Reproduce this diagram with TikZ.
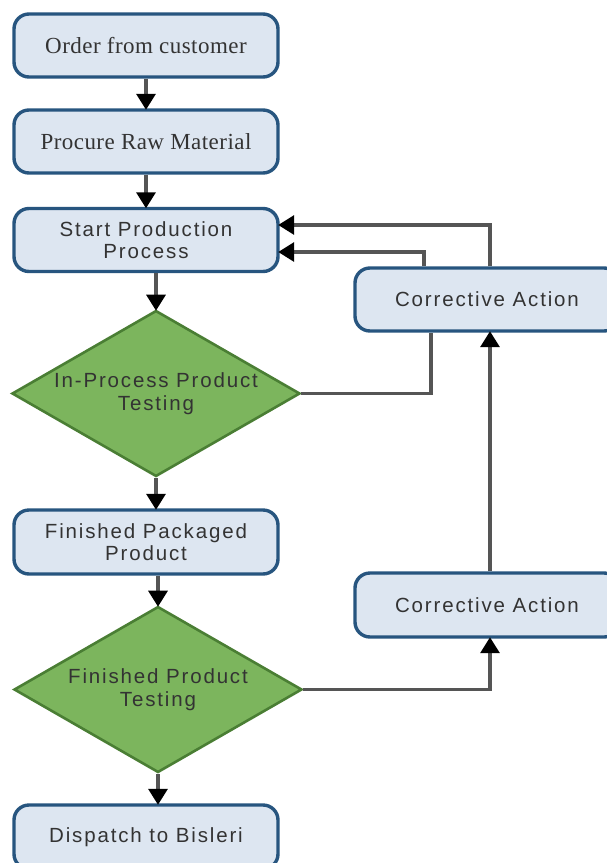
\documentclass[tikz,border=0pt]{standalone}
\usepackage{fontspec}
\setmainfont{Liberation Serif}
\newfontfamily\boxsans[LetterSpace=9]{Liberation Sans}
\newfontfamily\boxserif[LetterSpace=2]{Liberation Serif}
\usetikzlibrary{shapes.geometric,arrows.meta}
\definecolor{boxfill}{HTML}{DDE6F1}
\definecolor{boxline}{HTML}{27557F}
\definecolor{dfill}{HTML}{7CB55D}
\definecolor{dline}{HTML}{4A7E34}
\definecolor{conn}{HTML}{555555}
\definecolor{txt}{HTML}{333333}
\begin{document}
\begin{tikzpicture}[x=1pt,y=-1pt,
  procbox/.style={draw=boxline, fill=boxfill, line width=3.4pt, rounded corners=15pt,
     minimum width=264pt, minimum height=63pt, inner sep=0pt, align=center,
     text=txt, font=\boxsans\fontsize{20.5}{22.5}\selectfont},
  serifbox/.style={procbox, font=\boxserif\fontsize{23}{25}\selectfont},
  decision/.style={shape=diamond, draw=dline, fill=dfill, line width=2.6pt,
     inner sep=0pt, minimum width=288pt, minimum height=166pt, shape aspect=1.73,
     align=center, text=txt, font=\boxsans\fontsize{20.5}{22.5}\selectfont},
  arr/.style={draw=conn, line width=3.2pt, shorten >=-1.5pt,
     -{Triangle[width=19pt,length=16pt,fill=black,color=black]}},
  ln/.style={draw=conn, line width=3.2pt}]
\clip (0,0) rectangle (607,863);
\fill[white] (0,0) rectangle (607,863);

\node[serifbox] (order) at (146,45.5) {Order from customer};
\node[serifbox] (procure) at (146,141.5) {Procure Raw Material};
\node[procbox] (start) at (146,240) {Start Production\\Process};
\node[decision] (d1) at (156,393.5) {In-Process Product\\Testing};
\node[procbox, minimum height=64pt] (fin) at (146,542) {Finished Packaged\\Product};
\node[decision] (d2) at (158,689.5) {Finished Product\\Testing};
\node[procbox, minimum height=64pt] (disp) at (146,837) {Dispatch to Bisleri};
\node[procbox] (ca1) at (487,299.5) {Corrective Action};
\node[procbox, minimum height=64pt] (ca2) at (487,605) {Corrective Action};

\draw[arr] (order) -- (procure);
\draw[arr] (procure) -- (start);
\draw[arr] (d1.north |- start.south) -- (d1.north);
\draw[arr] (d1.south) -- (d1.south |- fin.north);
\draw[arr] (d2.north |- fin.south) -- (d2.north);
\draw[arr] (d2.south) -- (d2.south |- disp.north);

\draw[ln] (d1.east) -| ([xshift=-56pt]ca1.south);
\draw[arr] ([xshift=-63pt]ca1.north) |- ([yshift=-12pt]start.east);
\draw[arr] ([xshift=3pt]ca1.north) |- ([yshift=15pt]start.east);
\draw[arr] ([xshift=3pt]ca2.north) -- ([xshift=3pt]ca1.south);
\draw[arr] (d2.east) -| ([xshift=3pt]ca2.south);
\end{tikzpicture}
\end{document}
